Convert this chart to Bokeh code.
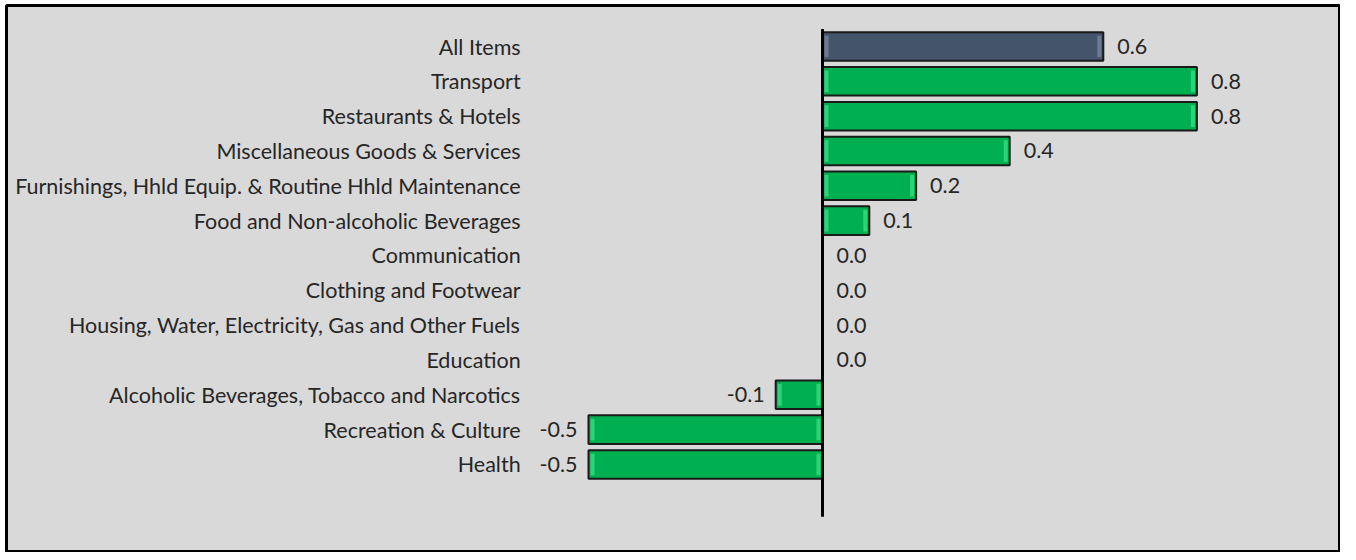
from bokeh.plotting import figure
from bokeh.models import ColumnDataSource, Range1d
from bokeh.core.properties import value
from bokeh.embed import file_html
from bokeh.resources import INLINE

categories = [
    "All Items",
    "Transport",
    "Restaurants & Hotels",
    "Miscellaneous Goods & Services",
    "Furnishings, Hhld Equip. & Routine Hhld Maintenance",
    "Food and Non-alcoholic Beverages",
    "Communication",
    "Clothing and Footwear",
    "Housing, Water, Electricity, Gas and Other Fuels",
    "Education",
    "Alcoholic Beverages, Tobacco and Narcotics",
    "Recreation & Culture",
    "Health",
]
values = [0.6, 0.8, 0.8, 0.4, 0.2, 0.1, 0.0, 0.0, 0.0, 0.0, -0.1, -0.5, -0.5]

BG = "#d9d9d9"
GREEN = "#00b050"
GREEN_LIGHT = "#3fe38a"
SLATE = "#44546a"
SLATE_LIGHT = "#7d8ba3"
TEXT = "#262626"
FONT = "Lato"
FS = "21.5px"

n = len(categories)
ypos = [n - i for i in range(n)]  # All Items at top, one empty slot at bottom (y=0)
colors = [SLATE if i == 0 else GREEN for i in range(n)]
lights = [SLATE_LIGHT if i == 0 else GREEN_LIGHT for i in range(n)]
labels = [f"{v:.1f}" for v in values]

src = ColumnDataSource(dict(cat=categories, y=ypos, v=values, color=colors,
                            light=lights, label=labels))

W, H = 1340, 552
ML, MT = 6, 5
FW, FH = W - ML, H - MT
xscale = 468.0
yscale = 34.83
x0 = -(822 - ML) / xscale
x1 = x0 + FW / xscale
y1 = n + (46 - MT) / yscale
y0 = y1 - FH / yscale

p = figure(width=W, height=H, output_backend="svg", toolbar_location=None,
           x_range=Range1d(x0, x1), y_range=Range1d(y0, y1),
           x_axis_location=None, y_axis_location=None,
           min_border_left=ML, min_border_top=MT, min_border_right=0,
           min_border_bottom=0)
p.grid.visible = False
p.background_fill_color = BG
p.border_fill_color = "white"
p.outline_line_color = "black"
p.outline_line_width = 3

# bars
nz = [i for i in range(n) if values[i] != 0]
bars = ColumnDataSource(dict(y=[ypos[i] for i in nz], v=[values[i] for i in nz],
                             color=[colors[i] for i in nz], light=[lights[i] for i in nz]))
p.hbar(y="y", left=0, right="v", height=0.82, source=bars,
       fill_color="color", line_color="#1a1a1a", line_width=2)

# bevel highlights at bar ends
px = 1 / xscale
ends_x, ends_y, ends_c = [], [], []
for i in nz:
    s = 1 if values[i] > 0 else -1
    ends_x += [s * 4 * px, values[i] - s * 4 * px]
    ends_y += [ypos[i], ypos[i]]
    ends_c += [lights[i], lights[i]]
p.rect(x=ends_x, y=ends_y, width=4, width_units="screen", height=0.62,
       fill_color=ends_c, fill_alpha=0.7, line_color=None)

# zero line
p.segment(x0=[0], y0=[-0.5], x1=[0], y1=[n + 0.5], line_color="black", line_width=3)

# category labels
p.text(x=-0.645, y="y", text="cat", source=src, text_align="right",
       text_baseline="middle", text_font=value(FONT), text_font_size=FS,
       text_color=TEXT)

# value labels
pos_idx = [i for i in range(n) if values[i] >= 0]
neg_idx = [i for i in range(n) if values[i] < 0]
p.text(x=[values[i] for i in pos_idx], y=[ypos[i] for i in pos_idx],
       text=[labels[i] for i in pos_idx], x_offset=14, text_align="left",
       text_baseline="middle", text_font=value(FONT), text_font_size=FS,
       text_color=TEXT)
p.text(x=[values[i] for i in neg_idx], y=[ypos[i] for i in neg_idx],
       text=[labels[i] for i in neg_idx], x_offset=-11, text_align="right",
       text_baseline="middle", text_font=value(FONT), text_font_size=FS,
       text_color=TEXT)

open("out.html", "w").write(file_html(p, INLINE))
